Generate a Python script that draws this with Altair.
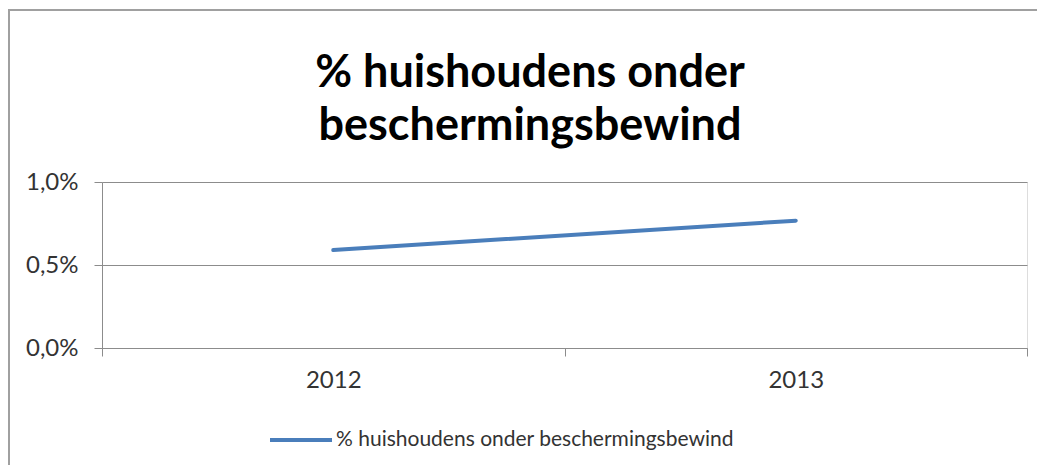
import altair as alt
import pandas as pd

years = ["2012", "2013"]
values = [0.0059, 0.00767]
series = "% huishoudens onder beschermingsbewind"
title_lines = ["% huishoudens onder", "beschermingsbewind"]

df = pd.DataFrame({"jaar": years, "waarde": values, "reeks": [series] * len(years)})

FONT = "Lato"

line = alt.Chart(df).mark_line(strokeWidth=4, strokeCap="round").encode(
    x=alt.X("jaar:O", bandPosition=0.5,
            scale=alt.Scale(type="band", paddingInner=0, paddingOuter=0),
            axis=alt.Axis(title=None, labelAngle=0, tickBand="extent", tickSize=8,
                          labelPadding=12, labelFontSize=24, labelFont=FONT,
                          labelColor="#333333", domainColor="#8c8c8c", tickColor="#8c8c8c",
                          grid=False)),
    y=alt.Y("waarde:Q", scale=alt.Scale(domain=[0, 0.01]),
            axis=alt.Axis(title=None, values=[0, 0.005, 0.01], tickSize=8,
                          labelPadding=16, labelFontSize=24, labelFont=FONT,
                          labelColor="#333333",
                          labelExpr="replace(format(datum.value, '.1%'), '.', ',')",
                          domainColor="#8c8c8c", tickColor="#8c8c8c",
                          gridColor="#8c8c8c", grid=True)),
    color=alt.Color("reeks:N", scale=alt.Scale(range=["#4a7ebb"]),
                    legend=alt.Legend(title=None, orient="none", legendX=166, legendY=225,
                                      symbolType="stroke", symbolSize=3844,
                                      symbolStrokeWidth=4, labelFontSize=21,
                                      labelFont=FONT, labelColor="#333333",
                                      labelOffset=2, padding=0, labelLimit=0)),
)

title_df = pd.DataFrame({"t": title_lines, "i": [0, 1]})
title1 = alt.Chart(title_df).transform_filter("datum.i == 0").mark_text(
    font=FONT, fontSize=45, fontWeight="bold", color="#000000",
    align="center", baseline="alphabetic"
).encode(text="t:N", x=alt.value(428), y=alt.value(-95))
title2 = alt.Chart(title_df).transform_filter("datum.i == 1").mark_text(
    font=FONT, fontSize=45, fontWeight="bold", color="#000000",
    align="center", baseline="alphabetic"
).encode(text="t:N", x=alt.value(428), y=alt.value(-42))

top_border = alt.Chart(df).mark_rule(color="#a0a0a0", strokeWidth=2).encode(
    x=alt.value(-94), x2=alt.value(943), y=alt.value(-172)
)
left_border = alt.Chart(df).mark_rule(color="#a0a0a0", strokeWidth=2).encode(
    x=alt.value(-93), y=alt.value(-172), y2=alt.value(290)
)

chart = alt.layer(line, title1, title2, top_border, left_border).properties(
    width=925,
    height=166,
    autosize=alt.AutoSizeParams(type="none"),
    padding={"left": 94, "top": 174, "right": 10, "bottom": 117},
).configure_view(stroke=None).configure(background="white")

chart.save("out.html", embed_options={"renderer": "svg", "actions": False})
